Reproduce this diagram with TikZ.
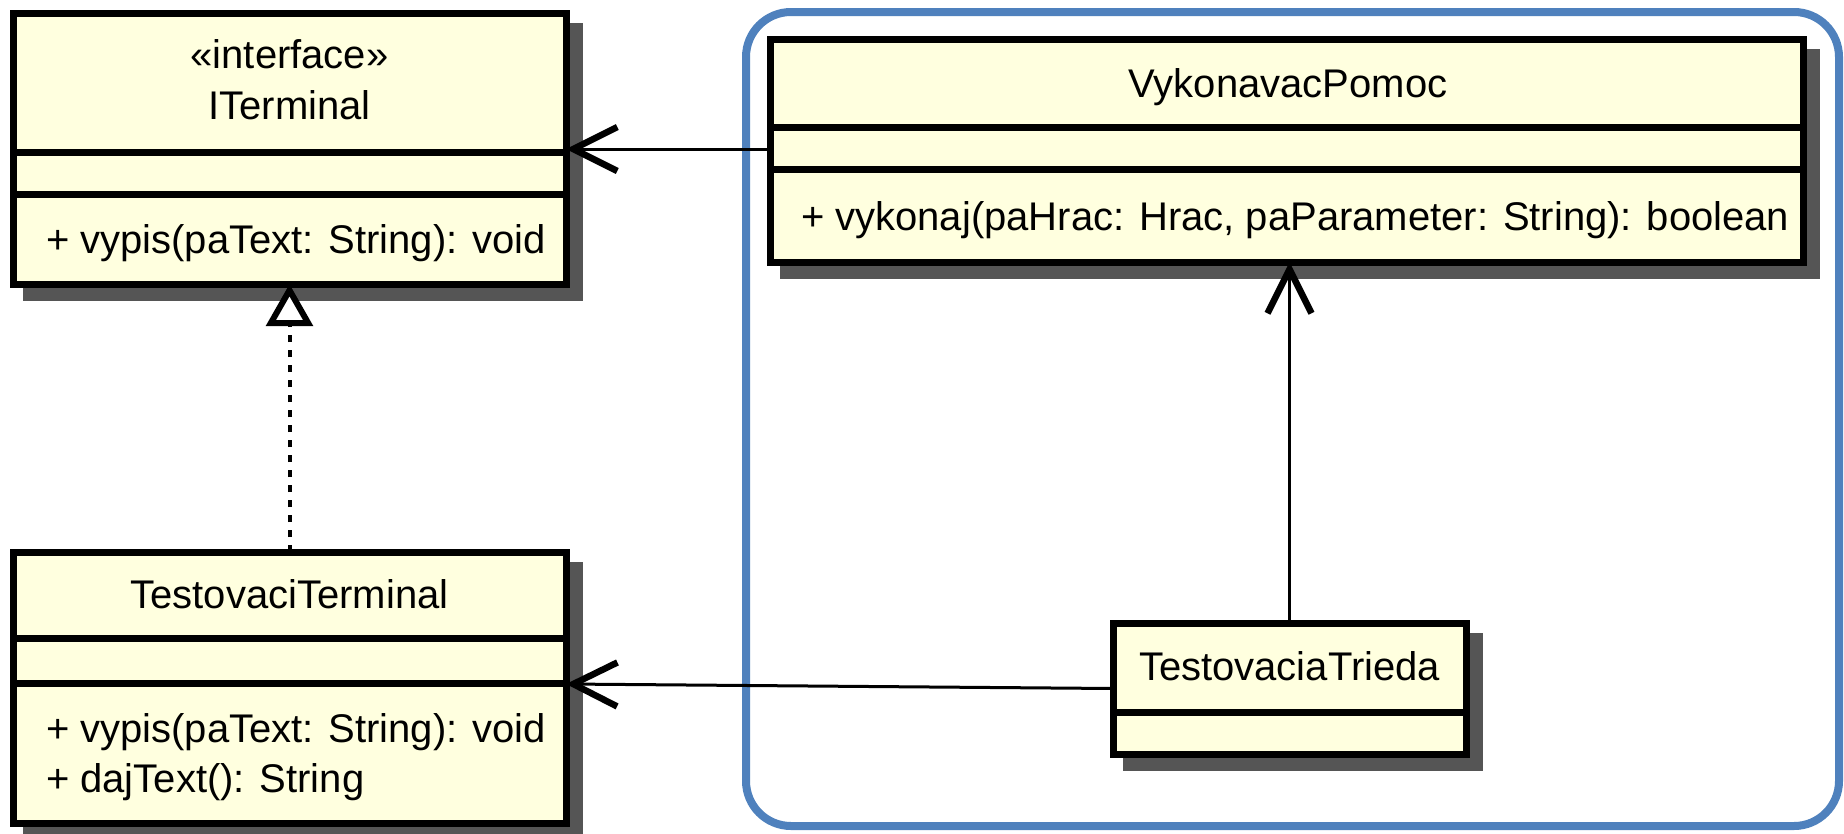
\documentclass[tikz,border=0pt]{standalone}
\usepackage{fontspec}
\setmainfont{Liberation Sans}
\usetikzlibrary{arrows.meta,backgrounds,calc}
\definecolor{classfill}{HTML}{FFFFDF}
\definecolor{shadowgray}{HTML}{555555}
\definecolor{framecol}{HTML}{4F81BD}
\begin{document}
\begin{tikzpicture}[x=1pt,y=-1pt,
  classbox/.style={draw=black, line width=7pt, fill=classfill, inner sep=0pt, outer sep=0pt},
  sepline/.style={line width=7pt},
  txt/.style={inner sep=0pt, outer sep=0pt, font=\fontsize{40}{48}\selectfont},
  conn/.style={line width=3pt},
  openarrow/.style={-{Straight Barb[length=44pt,width=44pt,line width=6.5pt]}},
  realize/.style={line width=4pt, dash pattern=on 7pt off 8pt,
     -{Triangle[length=42pt,width=46pt,line width=6pt,fill=white]}},
  pkgframe/.style={draw=framecol, line width=8pt, rounded corners=45pt, fill=white, inner sep=0pt, outer sep=0pt},
  shadowbox/.style={fill=shadowgray}
]
\useasboundingbox (0,0) rectangle (1844,833);

% class boxes
\node[classbox, minimum width=553pt, minimum height=271pt] (it) at (289.5,148.5) {};
\node[classbox, minimum width=553pt, minimum height=271pt] (tt) at (289.5,687.5) {};
\node[classbox, minimum width=1033pt, minimum height=223pt] (vp) at (1286.5,150.5) {};
\node[classbox, minimum width=353pt, minimum height=131pt] (ttr) at (1289.5,688.5) {};

% compartment separators
\draw[sepline] (it.west |- 0,152) -- (it.east |- 0,152);
\draw[sepline] (it.west |- 0,194) -- (it.east |- 0,194);
\draw[sepline] (tt.west |- 0,638) -- (tt.east |- 0,638);
\draw[sepline] (tt.west |- 0,683) -- (tt.east |- 0,683);
\draw[sepline] (vp.west |- 0,127) -- (vp.east |- 0,127);
\draw[sepline] (vp.west |- 0,169) -- (vp.east |- 0,169);
\draw[sepline] (ttr.west |- 0,712) -- (ttr.east |- 0,712);

% texts
\node[txt, anchor=base] (it-st) at (289.5,68) {«interface»};
\node[txt, anchor=base] (it-name) at (289.5,119) {ITerminal};
\node[txt, anchor=base west] (it-m1) at (46,253) {+ vypis(paText: String): void};

\node[txt, anchor=base] (tt-name) at (289.5,608) {TestovaciTerminal};
\node[txt, anchor=base west] (tt-m1) at (46,742) {+ vypis(paText: String): void};
\node[txt, anchor=base west] (tt-m2) at (46,792) {+ dajText(): String};

\node[txt, anchor=base] (vp-name) at (1288,97) {VykonavacPomoc};
\node[txt, anchor=base west] (vp-m1) at (801,230) {+ vykonaj(paHrac: Hrac, paParameter: String): boolean};

\node[txt, anchor=base] (ttr-name) at (1289.5,680) {TestovaciaTrieda};

% connectors
\draw[conn, openarrow] (vp.west |- 0,149) -- (it.east |- 0,149);
\draw[conn, openarrow] (ttr.north) -- (ttr.north |- vp.south);
\draw[conn, openarrow] (ttr.west) -- (tt.east |- 0,684);
\draw[realize] (tt.north) -- (it.south);

% background: package frame and shadows
\begin{scope}[on background layer]
  \node[pkgframe, minimum width=1093pt, minimum height=814pt] (pkg) at (1292.5,419) {};
  \fill[shadowbox] ($(it.north west)+(9.5,9.5)$) rectangle ($(it.south east)+(16.5,16.5)$);
  \fill[shadowbox] ($(tt.north west)+(9.5,9.5)$) rectangle ($(tt.south east)+(16.5,16.5)$);
  \fill[shadowbox] ($(vp.north west)+(9.5,9.5)$) rectangle ($(vp.south east)+(16.5,16.5)$);
  \fill[shadowbox] ($(ttr.north west)+(9.5,9.5)$) rectangle ($(ttr.south east)+(16.5,16.5)$);
\end{scope}
\end{tikzpicture}
\end{document}
